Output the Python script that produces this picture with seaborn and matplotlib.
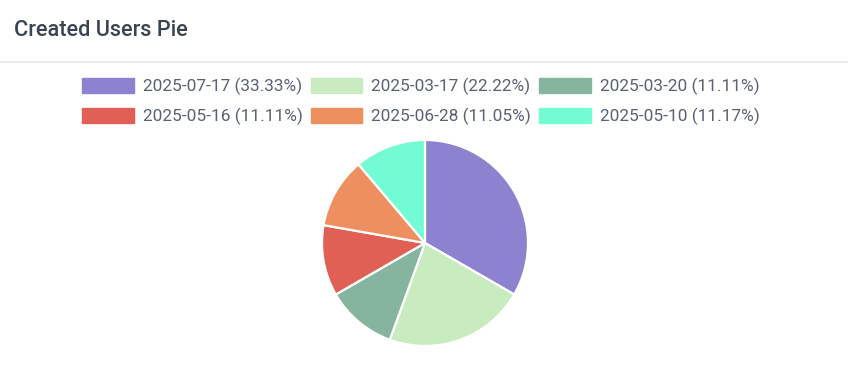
import matplotlib
matplotlib.use("Agg")
import matplotlib.pyplot as plt
from matplotlib.lines import Line2D
from matplotlib.patches import Patch
import seaborn as sns

dates = ["2025-07-17", "2025-03-17", "2025-03-20", "2025-05-16", "2025-06-28", "2025-05-10"]
percents = [33.33, 22.22, 11.11, 11.11, 11.05, 11.17]
colors = ["#8d82d0", "#c9ebc0", "#85b59e", "#e06055", "#ee8f5f", "#73fcd4"]
title = "Created Users Pie"

sns.set_style("white")
plt.rcParams["font.family"] = ["Roboto", "DejaVu Sans"]
palette = sns.color_palette(colors)

W, H = 848, 376
fig = plt.figure(figsize=(W / 100, H / 100), dpi=100)

# title and separator
fig.text(14 / W, 1 - 30 / H, title, fontsize=15.6, fontweight="medium",
         color="#3b4252", va="center", ha="left")
fig.add_artist(Line2D([0, 1], [1 - 62 / H, 1 - 62 / H], color="#e6e7ee", lw=1.2,
                      transform=fig.transFigure))

# pie
cx, cy, r = 425, 243, 103
ax = fig.add_axes([(cx - r) / W, 1 - (cy + r) / H, 2 * r / W, 2 * r / H])
ax.pie(percents, colors=palette, startangle=90, counterclock=False, radius=1,
       wedgeprops=dict(edgecolor="white", linewidth=1.6))
ax.set_xlim(-1.0, 1.0)
ax.set_ylim(-1.0, 1.0)
ax.axis("off")

# legend (row-major ordering with 3 columns)
labels = [f"{d} ({p:.2f}%)" for d, p in zip(dates, percents)]
handles = [Patch(facecolor=c, edgecolor=c) for c in palette]
order = [0, 3, 1, 4, 2, 5]
leg = fig.legend([handles[i] for i in order], [labels[i] for i in order],
                 ncol=3, loc="upper left", bbox_to_anchor=(82 / W, 1 - 78 / H),
                 frameon=False, fontsize=12.4, handlelength=3.0, handleheight=1.0,
                 handletextpad=0.52, columnspacing=0.47, labelspacing=0.72,
                 borderpad=0, borderaxespad=0, labelcolor="#5a6173")

fig.savefig("out.png", dpi=100, facecolor="white")
